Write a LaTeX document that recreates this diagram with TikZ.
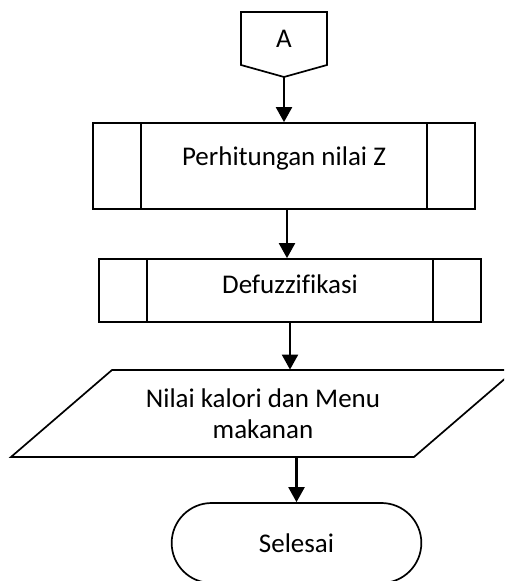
\documentclass[tikz,border=0pt]{standalone}
\usepackage{fontspec}
\setmainfont{Carlito}[Ligatures=NoCommon]
\usepackage{tikz}
\usetikzlibrary{arrows.meta,shapes.misc}
\tikzstyle{garis} = [draw=black, line width=0.85pt]
\tikzstyle{teks} = [font=\fontsize{13.5}{15.5}\selectfont, align=center]
\tikzstyle{subproses} = [garis, teks, rectangle, minimum width=191pt, text height=1.6ex, text depth=1.6ex,
	path picture={
		\draw[line width=0.85pt] ([xshift=24pt]path picture bounding box.north west) -- ([xshift=24pt]path picture bounding box.south west);
		\draw[line width=0.85pt] ([xshift=-24pt]path picture bounding box.north east) -- ([xshift=-24pt]path picture bounding box.south east);}]
\tikzstyle{terminal} = [garis, teks, rounded rectangle, minimum width=131.5pt, minimum height=40pt]
\tikzstyle{panah} = [line width=1.1pt, -{Triangle[width=8pt,length=7.5pt]}]

\begin{document}
\begin{tikzpicture}[x=0.5pt,y=-0.5pt]
		\useasboundingbox (0,0) rectangle (504,581);
		\clip (0,0) rectangle (504,581);
		% konektor halaman
		\draw[garis] (241,12) -- (327,12) -- (327,65) -- (284,77) -- (241,65) -- cycle;
		\node[teks] (sambung) at (284,39) {A};
		\coordinate (ujung) at (284,77);
		% proses
		\node[subproses, minimum height=43pt] (hitung) at (284,166) {Perhitungan nilai Z};
		\node[subproses, minimum height=31.5pt, text height=1.9ex, text depth=1.3ex] (defuz) at (290,290.5) {Defuzzifikasi};
		% keluaran
		\draw[garis] (112,370) -- (515,370) -- (414,457) -- (11,457) -- cycle;
		\node[teks, minimum height=43.5pt] (keluaran) at (263,413.5) {Nilai kalori dan Menu\\makanan};
		\node[terminal] (selesai) at (296.5,543) {Selesai};
		% panah
		\draw[panah] (ujung) -- (hitung.north);
		\draw[panah] ([xshift=1.5pt]hitung.south) -- ([xshift=-1.5pt]defuz.north);
		\draw[panah] (defuz.south) -- (defuz.south |- keluaran.north);
		\draw[panah] (keluaran.south -| selesai.north) -- (selesai.north);
	\end{tikzpicture}
\end{document}
